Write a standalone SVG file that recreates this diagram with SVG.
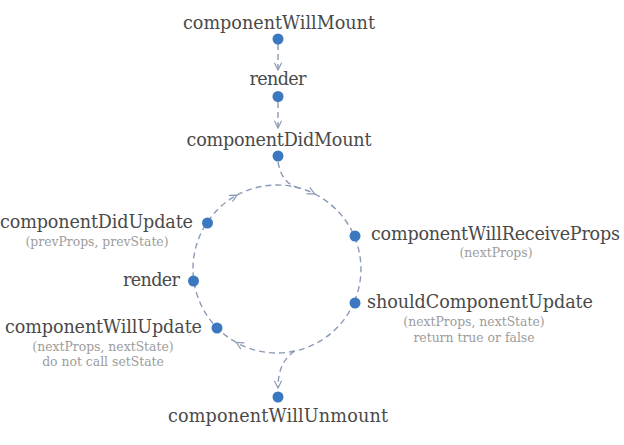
<svg xmlns="http://www.w3.org/2000/svg" width="624" height="445" viewBox="0 0 624 445">
<style>
.t{font-family:"DejaVu Serif","Liberation Serif",serif;font-size:17.6px;fill:#4a4a4a}
.s{font-family:"DejaVu Serif","Liberation Serif",serif;font-size:12.4px;fill:#9c9c9c}
.dot{fill:#3b78c0}
.ln{fill:none;stroke:#8a9bb6;stroke-width:1.4;stroke-dasharray:6 4}
</style>
<defs>
<marker id="ah" viewBox="0 0 10 10" refX="9" refY="5" markerWidth="9" markerHeight="9" markerUnits="userSpaceOnUse" orient="auto">
<path d="M1,1 L9,5 L1,9" fill="none" stroke="#8a9bb6" stroke-width="1.3"/>
</marker>
</defs>
<g id="connectors">
<path class="ln" d="M278,44 L278,70" marker-end="url(#ah)"/>
<path class="ln" d="M278,102 L278,128" marker-end="url(#ah)"/>
<path class="ln" d="M278,162 C281,178 288,185 298.7,187.9"/>
<path class="ln" d="M354.3,301.8 A84,84 0 0 1 236.3,342.5" marker-end="url(#ah)"/>
<path class="ln" d="M236.3,342.5 A84,84 0 0 1 237.05,195.1" marker-end="url(#ah)"/>
<path class="ln" d="M237.05,195.1 A84,84 0 0 1 314.6,193.9" marker-end="url(#ah)"/>
<path class="ln" d="M314.6,193.9 A84,84 0 0 1 354.3,301.8"/>
<path class="ln" d="M294.5,351.2 C284,358 278,370 278,388" marker-end="url(#ah)"/>
</g>
<g id="componentWillMount">
<text class="t" x="279" y="29" text-anchor="middle" textLength="192">componentWillMount</text>
<circle class="dot" cx="278" cy="39" r="5.5"/>
</g>
<g id="render1">
<text class="t" x="278" y="85" text-anchor="middle" textLength="57">render</text>
<circle class="dot" cx="278" cy="96.5" r="5.5"/>
</g>
<g id="componentDidMount">
<text class="t" x="279" y="146" text-anchor="middle" textLength="185">componentDidMount</text>
<circle class="dot" cx="278" cy="156" r="5.5"/>
</g>
<g id="componentWillReceiveProps">
<circle class="dot" cx="355" cy="236" r="5.5"/>
<text class="t" x="371" y="240" textLength="249">componentWillReceiveProps</text>
<text class="s" x="496" y="257" text-anchor="middle">(nextProps)</text>
</g>
<g id="shouldComponentUpdate">
<circle class="dot" cx="355" cy="303" r="5.5"/>
<text class="t" x="367" y="308" textLength="226">shouldComponentUpdate</text>
<text class="s" x="474" y="326" text-anchor="middle">(nextProps, nextState)</text>
<text class="s" x="474" y="342" text-anchor="middle">return true or false</text>
</g>
<g id="componentWillUpdate">
<circle class="dot" cx="217" cy="328" r="5.5"/>
<text class="t" x="5" y="333" textLength="197">componentWillUpdate</text>
<text class="s" x="103" y="351" text-anchor="middle">(nextProps, nextState)</text>
<text class="s" x="103" y="366" text-anchor="middle">do not call setState</text>
</g>
<g id="render2">
<circle class="dot" cx="193.5" cy="281" r="5.5"/>
<text class="t" x="123" y="286" textLength="57">render</text>
</g>
<g id="componentDidUpdate">
<circle class="dot" cx="207.5" cy="223" r="5.5"/>
<text class="t" x="0" y="228" textLength="193">componentDidUpdate</text>
<text class="s" x="97" y="246" text-anchor="middle">(prevProps, prevState)</text>
</g>
<g id="componentWillUnmount">
<circle class="dot" cx="278" cy="397" r="5.5"/>
<text class="t" x="278" y="422" text-anchor="middle" textLength="220">componentWillUnmount</text>
</g>
</svg>
